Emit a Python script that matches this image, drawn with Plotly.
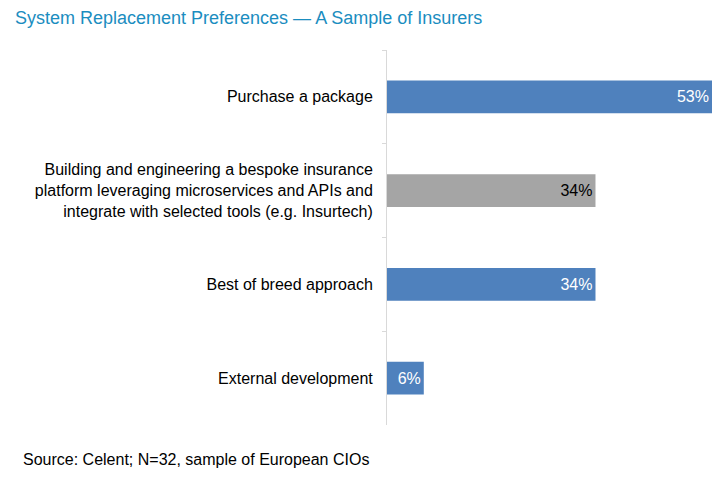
import plotly.graph_objects as go

categories = [
    "Purchase a package",
    "Building and engineering a bespoke insurance<br>platform leveraging microservices and APIs and<br>integrate with selected tools (e.g. Insurtech)",
    "Best of breed approach",
    "External development",
]
values = [53, 34, 34, 6]
bar_colors = ["#4F81BD", "#A5A5A5", "#4F81BD", "#4F81BD"]
label_colors = ["white", "black", "white", "white"]

FONT = "Liberation Sans, Arial, sans-serif"

# the page puts the plot 8px in from the top-left corner
W, H = 713, 470
L, R, T, B = 379, 9, 42, 53

fig = go.Figure(
    go.Bar(
        x=values,
        y=categories,
        orientation="h",
        marker=dict(color=bar_colors, line_width=0),
        width=0.35,
        text=[f"{v}%" for v in values],
        textposition="inside",
        insidetextanchor="end",
        textfont=dict(color=label_colors, size=16, family=FONT),
        hoverinfo="none",
    )
)

fig.update_layout(
    width=W,
    height=H,
    paper_bgcolor="white",
    plot_bgcolor="white",
    showlegend=False,
    margin=dict(l=L, r=R, t=T, b=B, autoexpand=False),
    font=dict(family=FONT, size=16, color="#000000"),
    xaxis=dict(range=[0, 53], visible=False, fixedrange=True),
    yaxis=dict(
        autorange="reversed",
        showline=True,
        linecolor="#D9D9D9",
        linewidth=1,
        ticks="outside",
        tickson="boundaries",
        ticklen=4,
        tickcolor="#D9D9D9",
        ticklabelstandoff=10,
        tickfont=dict(size=16, family=FONT, color="#000000"),
        showgrid=False,
        fixedrange=True,
    ),
)

pw = W - L - R
ph = H - T - B


def px_to_paper(x, y):
    return (x - L) / pw, 1 - (y - T) / ph


tx, ty = px_to_paper(5, 10)
sx, sy = px_to_paper(13, 451)
fig.add_annotation(
    text="System Replacement Preferences \u2014 A Sample of Insurers",
    x=tx, y=ty, xref="paper", yref="paper", showarrow=False,
    xanchor="left", yanchor="middle",
    font=dict(size=18, color="#1B8DBF", family=FONT),
)
fig.add_annotation(
    text="Source: Celent; N=32, sample of European CIOs",
    x=sx, y=sy, xref="paper", yref="paper", showarrow=False,
    xanchor="left", yanchor="middle",
    font=dict(size=16, color="#000000", family=FONT),
)

fig.write_html("out.html")
